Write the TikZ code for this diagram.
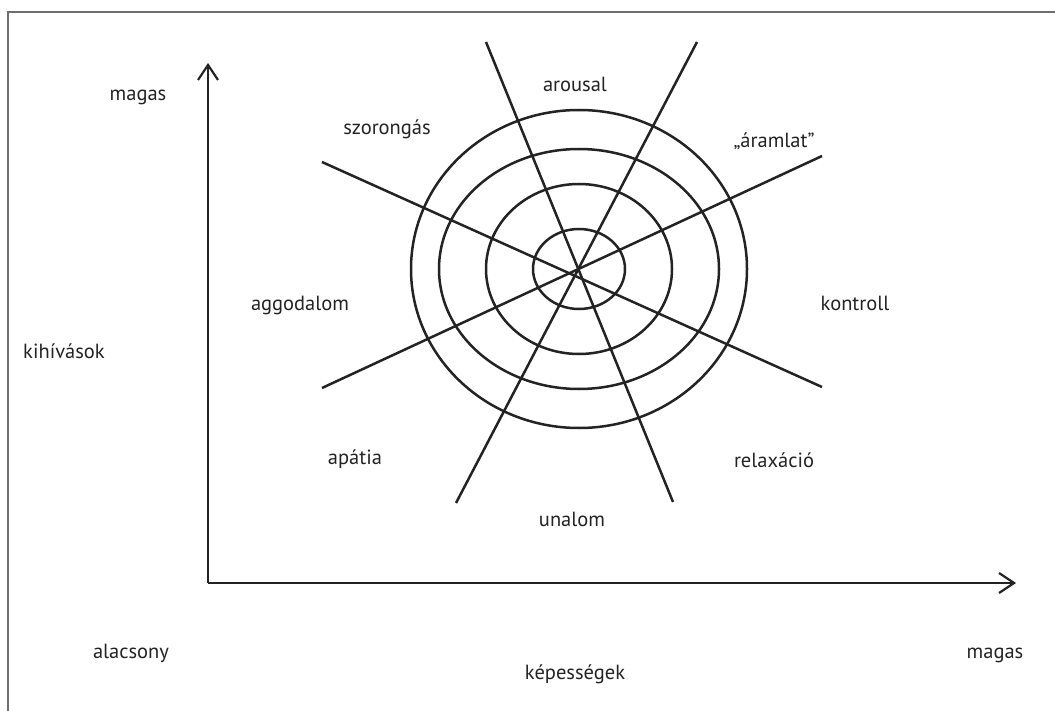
\documentclass[tikz,border=0pt]{standalone}
\usepackage{fontspec}
\setmainfont{PT Sans}
\usetikzlibrary{arrows.meta, positioning, calc}
\definecolor{InkGray}{RGB}{35,35,35}
\definecolor{FrameGray}{RGB}{110,110,110}

\begin{document}
\begin{tikzpicture}[x=1pt, y=-1pt, every node/.style={font=\fontsize{20.5}{24}\selectfont, text=InkGray, inner sep=1pt}, ring/.style={line width=2.5pt, draw=InkGray}, spoke/.style={line width=2.5pt, draw=InkGray}, axis/.style={line width=2.5pt, draw=InkGray, ->, >={Straight Barb[length=15pt, width=20pt, line width=2.2pt]}}]
\useasboundingbox (0,0) rectangle (1055,711);
\draw [FrameGray, line width=1.2pt] (8,711) -- (8,12) -- (1055,12);

% axes
\coordinate (origin) at (208,583);
\coordinate (ytip) at (208,63);
\coordinate (xtip) at (1016,583);
\draw [axis] (origin) -- (ytip);
\draw [axis] (origin) -- (xtip);

% rings
\coordinate (center) at (579,269);
\draw [ring] (center) ellipse [x radius=168, y radius=159];
\draw [ring] (center) ellipse [x radius=140, y radius=120];
\draw [ring] (center) ellipse [x radius=93, y radius=85];
\draw [ring] (center) ellipse [x radius=46, y radius=40];

% spokes
\draw [spoke] ($(center)+(-93,-227)$) -- ($(center)+(94,233)$);
\draw [spoke] ($(center)+(118,-227)$) -- ($(center)+(-123,234)$);
\draw [spoke] ($(center)+(-257,-107)$) -- ($(center)+(243,118)$);
\draw [spoke] ($(center)+(243,-113)$) -- ($(center)+(-257,119)$);

% labels
\node (arousal) at (575,84) {arousal};
\node (aramlat) at (774,141) {„áramlat''};
\node (szorongas) at (387,129) {szorongás};
\node (aggodalom) at (300,305) {aggodalom};
\node (kontroll) at (855,303) {kontroll};
\node (apatia) at (355,459) {apátia};
\node (relaxacio) at (774,460) {relaxáció};
\node (unalom) at (572,519) {unalom};
\node (ymagas) at (138,97) {magas};
\node (kihivasok) at (64,351) {kihívások};
\node (alacsony) at (131,653) {alacsony};
\node (xmagas) at (995,655) {magas};
\node (kepessegek) at (575,674) {képességek};
\end{tikzpicture}
\end{document}
